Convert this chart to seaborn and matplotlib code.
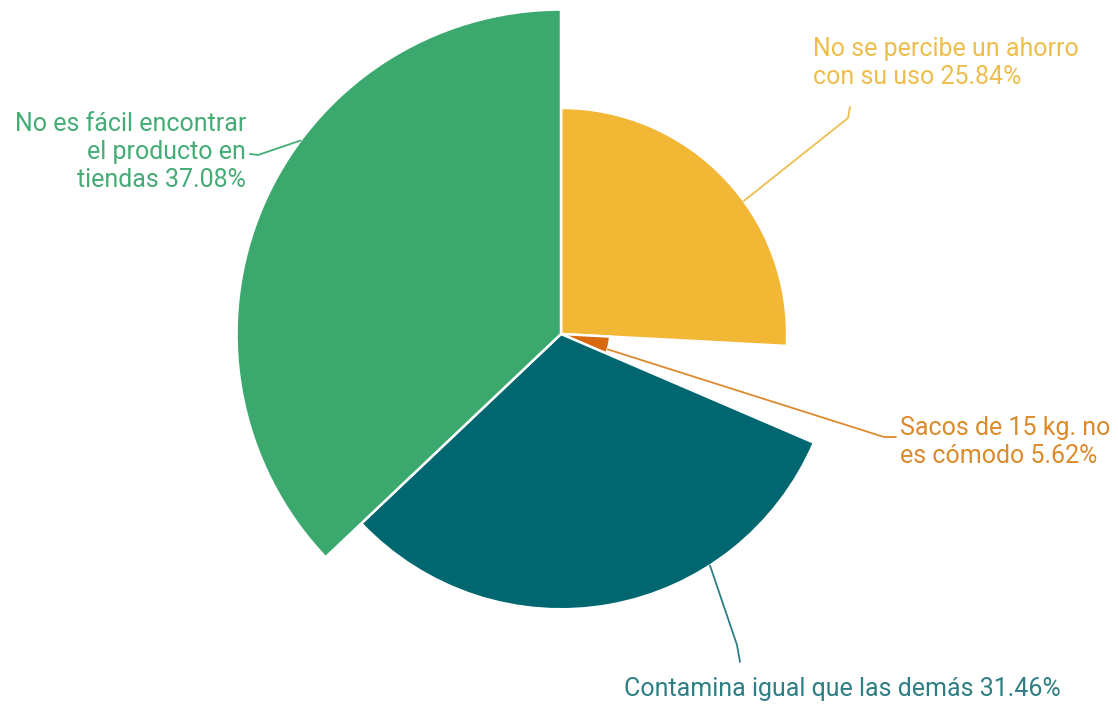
import numpy as np
import matplotlib
matplotlib.use("Agg")
import matplotlib.pyplot as plt
import seaborn as sns
from matplotlib.lines import Line2D

categories = ["No se percibe un ahorro\ncon su uso",
              "Sacos de 15 kg. no\nes cómodo",
              "Contamina igual que las demás",
              "No es fácil encontrar\nel producto en\ntiendas"]
values = [25.84, 5.62, 31.46, 37.08]
colors = ["#F2B735", "#D9690E", "#006770", "#3BA96E"]
text_colors = ["#EDBE4C", "#DC8A2C", "#2E7E84", "#45AC75"]

sns.set_theme(style="white")
plt.rcParams['font.family'] = ['Roboto', 'DejaVu Sans']

W, H = 1118, 708
fig = plt.figure(figsize=(W / 100, H / 100), dpi=100)
cx, cy = 561, 334  # center in pixels from top-left
R = 350  # pixel radius for rmax
rmax = 40
ax = fig.add_axes([(cx - R) / W, (H - cy - R) / H, 2 * R / W, 2 * R / H], projection='polar')
ax.set_theta_zero_location('N')
ax.set_theta_direction(-1)

total = sum(values)
widths = [v / total * 2 * np.pi for v in values]
starts = np.concatenate([[0], np.cumsum(widths)[:-1]])
mids = starts + np.array(widths) / 2
ax.bar(mids, values, width=widths, bottom=0, color=colors, edgecolor='white', linewidth=1.8, align='center')
ax.set_ylim(0, rmax)
ax.set_xticks([]); ax.set_yticks([])
ax.grid(False)
ax.spines['polar'].set_visible(False)
ax.set_facecolor('none')

def pix(x, y):
    return (x / W, 1 - y / H)

# leader lines: (theta fraction of wedge, r) start, then elbow points in pixels
leaders = [
    (0.58, values[0] * 1.0, [(848, 118), (850, 107)]),
    (0.75, values[1] * 1.0, [(884, 437), (896, 437)]),
    (0.30, values[2] * 1.0, [(737, 645), (740, 662)]),
    (0.60, values[3] * 1.0, [(258, 155), (250, 154)]),
]
fig.canvas.draw()
for i, (frac, r, pts) in enumerate(leaders):
    th = starts[i] + widths[i] * frac
    px, py = ax.transData.transform((th, r))
    pts_f = [(px / W, py / H)] + [pix(x, y) for x, y in pts]
    xs, ys = zip(*pts_f)
    fig.add_artist(Line2D(xs, ys, transform=fig.transFigure, color=text_colors[i], lw=1.3))

fs = 18
ls = 1.2
labels = [f"{c} {v:.2f}%" for c, v in zip(categories, values)]
fig.text(*pix(813, 37), labels[0], color=text_colors[0], fontsize=fs, ha='left', va='top', linespacing=ls)
fig.text(*pix(900, 416), labels[1], color=text_colors[1], fontsize=fs, ha='left', va='top', linespacing=ls)
fig.text(*pix(624, 677), labels[2], color=text_colors[2], fontsize=fs, ha='left', va='top', linespacing=ls)
fig.text(*pix(246, 112), labels[3], color=text_colors[3], fontsize=fs, ha='right', va='top', linespacing=ls)

fig.savefig("out.png", dpi=100, facecolor='white')
